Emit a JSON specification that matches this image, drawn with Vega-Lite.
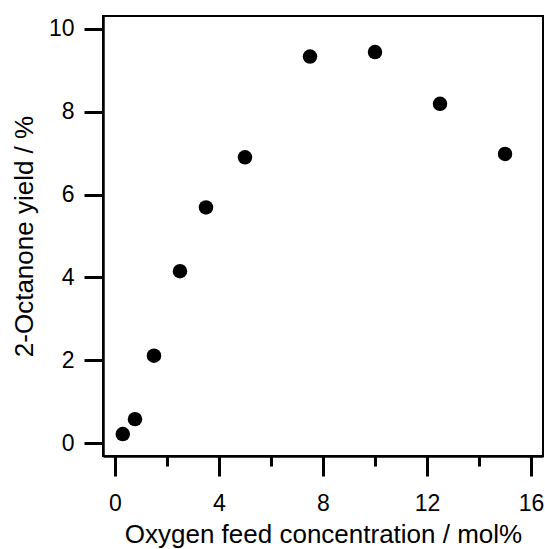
{
  "$schema": "https://vega.github.io/schema/vega-lite/v6.json",
  "width": 440,
  "height": 440,
  "autosize": {"type": "none"},
  "padding": {"left": 103, "top": 16, "right": 2, "bottom": 93},
  "background": "white",
  "config": {
    "view": {"stroke": "black", "strokeWidth": 2},
    "font": "Liberation Sans",
    "axis": {
      "grid": false,
      "domainColor": "black",
      "domainWidth": 2.5,
      "tickColor": "black",
      "tickWidth": 3,
      "labelFont": "Liberation Sans",
      "labelFontSize": 23,
      "labelColor": "black",
      "titleFont": "Liberation Sans",
      "titleFontSize": 26,
      "titleFontWeight": "normal",
      "titleColor": "black"
    }
  },
  "data": {
    "values": [
      {"o2": 0.3, "yield": 0.22},
      {"o2": 0.77, "yield": 0.58},
      {"o2": 1.5, "yield": 2.11},
      {"o2": 2.5, "yield": 4.15},
      {"o2": 3.5, "yield": 5.69},
      {"o2": 5.0, "yield": 6.9},
      {"o2": 7.5, "yield": 9.33},
      {"o2": 10.0, "yield": 9.44},
      {"o2": 12.5, "yield": 8.19},
      {"o2": 15.0, "yield": 6.98}
    ]
  },
  "mark": {"type": "circle", "size": 210, "color": "black", "opacity": 1},
  "encoding": {
    "x": {
      "field": "o2",
      "type": "quantitative",
      "scale": {"domain": [-0.46, 16.46], "nice": false, "zero": false},
      "axis": {
        "title": "Oxygen feed concentration / mol%",
        "values": [0, 2, 4, 6, 8, 10, 12, 14, 16],
        "labelExpr": "datum.value % 4 === 0 ? datum.label : ''",
        "tickSize": {"condition": {"test": "datum.value % 4 === 0", "value": 20}, "value": 10},
        "labelPadding": 16,
        "titlePadding": 6,
        "labelFlush": false
      }
    },
    "y": {
      "field": "yield",
      "type": "quantitative",
      "scale": {"domain": [-0.31, 10.31], "nice": false, "zero": false},
      "axis": {
        "title": "2-Octanone yield / %",
        "values": [0, 2, 4, 6, 8, 10],
        "tickSize": 19,
        "labelPadding": 10,
        "titlePadding": 11,
        "labelFlush": false
      }
    }
  }
}
